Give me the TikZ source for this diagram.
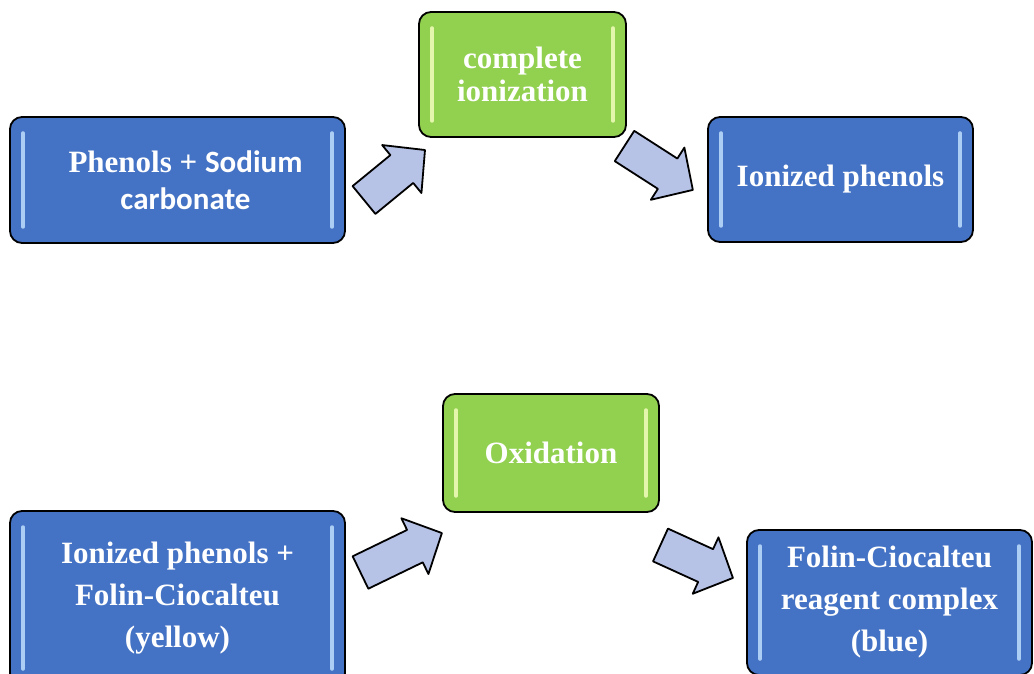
\documentclass[tikz,border=0pt]{standalone}
\usepackage{fontspec}
\setmainfont{Liberation Serif}
\newfontfamily\sodiumfont{Carlito}
\usetikzlibrary{calc}

\definecolor{boxblue}{RGB}{68,114,196}
\definecolor{boxgreen}{RGB}{146,208,80}
\definecolor{arrowfill}{RGB}{182,194,230}
\definecolor{hlblue}{RGB}{172,206,245}
\definecolor{hlgreen}{RGB}{228,246,172}

% block arrow from tail #1 to tip #2
\newcommand{\flowarrow}[2]{%
\path let \p1=($(#2)-(#1)$) in \pgfextra{%
  \pgfmathsetmacro\arrang{atan2(\y1,\x1)}%
  \pgfmathsetmacro\arrlen{veclen(\x1,\y1)}%
  \xdef\arrang{\arrang}\xdef\arrlen{\arrlen}};
\draw[fatarrow,shift={(#1)},rotate=\arrang] (0,-18) -- (\arrlen-30,-18) -- (\arrlen-30,-31) -- (\arrlen,0)
	-- (\arrlen-30,31) -- (\arrlen-30,18) -- (0,18) -- cycle;
}

\tikzset{
	sidelines/.style={path picture={
		\draw[#1,line width=3.5,line cap=round] ([xshift=13,yshift=-16]path picture bounding box.north west) -- ([xshift=13,yshift=16]path picture bounding box.south west);
		\draw[#1,line width=3.5,line cap=round] ([xshift=-13,yshift=-16]path picture bounding box.north east) -- ([xshift=-13,yshift=16]path picture bounding box.south east);
	}},
	procbox/.style={draw=black,line width=1.8,rounded corners=12,align=center,text=white,inner sep=4},
	bluebox/.style={procbox,fill=boxblue,sidelines=hlblue},
	greenbox/.style={procbox,fill=boxgreen,sidelines=hlgreen},
	textsize/.style={font=\bfseries\fontsize{31}{#1}\selectfont},
	fatarrow/.style={draw=black,line width=1.8,fill=arrowfill,line join=round}
}

\begin{document}
\begin{tikzpicture}[x=1pt,y=1pt]

\useasboundingbox (0,0) rectangle (1034,673);

% first row
\node[bluebox,minimum width=335,minimum height=126,textsize=37] (phenols) at (177.5,493) {\hspace*{16pt}Phenols + {\sodiumfont Sodium}\\\hspace*{16pt}{\sodiumfont carbonate}};
\node[greenbox,minimum width=207,minimum height=125,textsize=33] (ionization) at (522.5,598.5) {complete\\ionization};
\node[bluebox,minimum width=265,minimum height=125,textsize=37] (ionized) at (840.5,493.5) {Ionized phenols};

% second row
\node[bluebox,minimum width=335,minimum height=174,textsize=42] (mixture) at (177.5,75) {Ionized phenols +\\Folin-Ciocalteu\\(yellow)};
\node[greenbox,minimum width=216,minimum height=118,textsize=37] (oxidation) at (551,220) {Oxidation};
\node[bluebox,minimum width=285,minimum height=145,textsize=42] (complex) at (889.5,70.5) {Folin-Ciocalteu\\reagent complex\\(blue)};

%arrow ends
\coordinate (a1s) at (364,473);
\coordinate (a1e) at (425,523);
\coordinate (a2s) at (624.5,527);
\coordinate (a2e) at (693,483);
\coordinate (a3s) at (360.5,100.5);
\coordinate (a3e) at (442,140);
\coordinate (a4s) at (660.5,128);
\coordinate (a4e) at (733,95);

%arrows
\flowarrow{a1s}{a1e}
\flowarrow{a2s}{a2e}
\flowarrow{a3s}{a3e}
\flowarrow{a4s}{a4e}

\end{tikzpicture}
\end{document}
